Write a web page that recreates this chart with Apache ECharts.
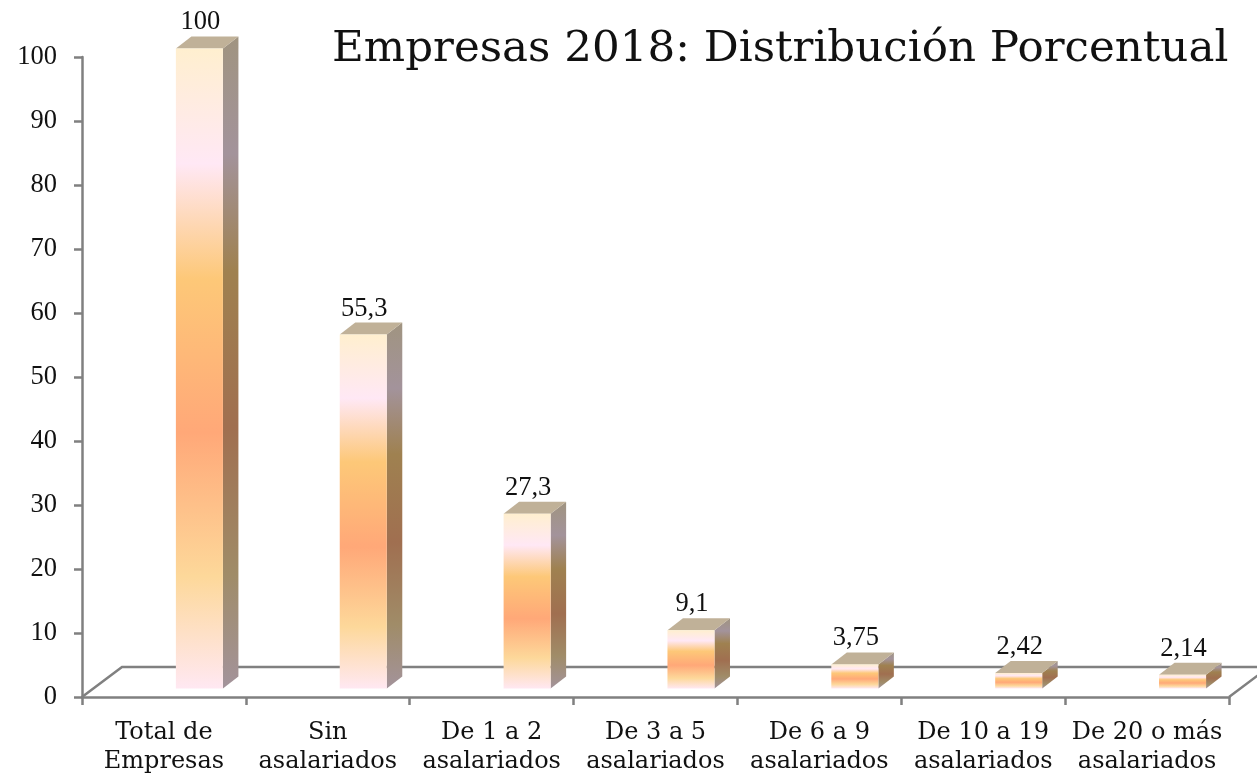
<!DOCTYPE html>
<html>
<head>
<meta charset="utf-8">
<style>html,body{margin:0;padding:0;background:#fff}#c{width:1257px;height:779px}</style>
<script src="https://cdn.jsdelivr.net/npm/echarts@6/dist/echarts.min.js"></script>
</head>
<body>
<div id="c"></div>
<script>
const titleText = 'Empresas 2018: Distribución Porcentual';
const categories = ['Total de\nEmpresas','Sin\nasalariados','De 1 a 2\nasalariados','De 3 a 5\nasalariados','De 6 a 9\nasalariados','De 10 a 19\nasalariados','De 20 o más\nasalariados'];
const values = [100, 55.3, 27.3, 9.1, 3.75, 2.42, 2.14];
const FONT = '"DejaVu Serif"';
const NUMFONT = '"Liberation Serif"';
const AXIS = '#808080';
const stops = [[0,'#FFEFCF'],[0.18,'#FFE8F5'],[0.36,'#FDC878'],[0.6,'#FFA878'],[0.825,'#FDD89A'],[1,'#FFE8F2']];
const sideStops = [[0,'#A09480'],[0.18,'#A3939B'],[0.36,'#9F8150'],[0.6,'#A06F50'],[0.825,'#A08C68'],[1,'#A3939B']];
function grad(s){return {type:'linear',x:0,y:0,x2:0,y2:1,colorStops:s.map(p=>({offset:p[0],color:p[1]}))};}

function renderFloor(params, api){
  const c = params.coordSys;
  const x0=c.x, x1=c.x+c.width, y=c.y+c.height, dx=40, dy=30;
  const st={stroke:AXIS,lineWidth:2.5,fill:null};
  return {type:'group',children:[
    {type:'polyline',shape:{points:[[x0,y],[x0+dx,y-dy],[x1+dx,y-dy],[x1,y]]},style:st}
  ]};
}
function renderBar(params, api){
  const i=api.value(0), v=api.value(1);
  const top=api.coord([i,v]), base=api.coord([i,0]);
  const band=api.size([1,0])[0];
  const w=band*0.287, cx=top[0]+band*0.2165, lift=8.5, dx=15.5, dy=12;
  const l=cx-w/2, r=cx+w/2, t=top[1]-lift, b=base[1]-lift;
  return {type:'group',children:[
    {type:'polygon',shape:{points:[[r,t],[r+dx,t-dy],[r+dx,b-dy],[r,b]]},style:{fill:grad(sideStops)}},
    {type:'polygon',shape:{points:[[l,t],[l+dx,t-dy],[r+dx,t-dy],[r,t]]},style:{fill:'#C0B198'}},
    {type:'rect',shape:{x:l,y:t,width:w,height:b-t},style:{fill:grad(stops)}},
    {type:'text',style:{text:String(v).replace('.',','),x:cx+1,y:t-26,align:'center',verticalAlign:'middle',font:'26.5px '+NUMFONT,fill:'#111'}}
  ]};
}
const chart=echarts.init(document.getElementById('c'),null,{renderer:'canvas'});
chart.setOption({
  animation:false,
  backgroundColor:'#fff',
  title:{text:titleText,left:327,top:23,textStyle:{fontFamily:FONT,fontWeight:'normal',fontSize:43.6,color:'#111'}},
  grid:{left:82,right:28,top:57,bottom:82,containLabel:false},
  xAxis:{type:'category',data:categories,boundaryGap:true,
    axisLine:{lineStyle:{color:AXIS,width:2.5}},
    axisTick:{show:true,length:8,lineStyle:{color:AXIS,width:2.5}},
    axisLabel:{interval:0,margin:21,lineHeight:29,fontFamily:FONT,fontSize:24,color:'#111'}},
  yAxis:{type:'value',min:0,max:100,interval:10,splitLine:{show:false},
    axisLine:{show:true,lineStyle:{color:AXIS,width:2.5}},
    axisTick:{show:true,length:8,lineStyle:{color:AXIS,width:2.5}},
    axisLabel:{margin:25,fontFamily:NUMFONT,fontSize:26.5,color:'#111'}},
  series:[
    {type:'custom',z:1,clip:false,silent:true,renderItem:renderFloor,data:[[0,0]],encode:{x:0,y:1}},
    {type:'custom',z:3,clip:false,silent:true,renderItem:renderBar,data:values.map((v,i)=>[i,v]),encode:{x:0,y:1}}
  ]
});
</script>
</body>
</html>
